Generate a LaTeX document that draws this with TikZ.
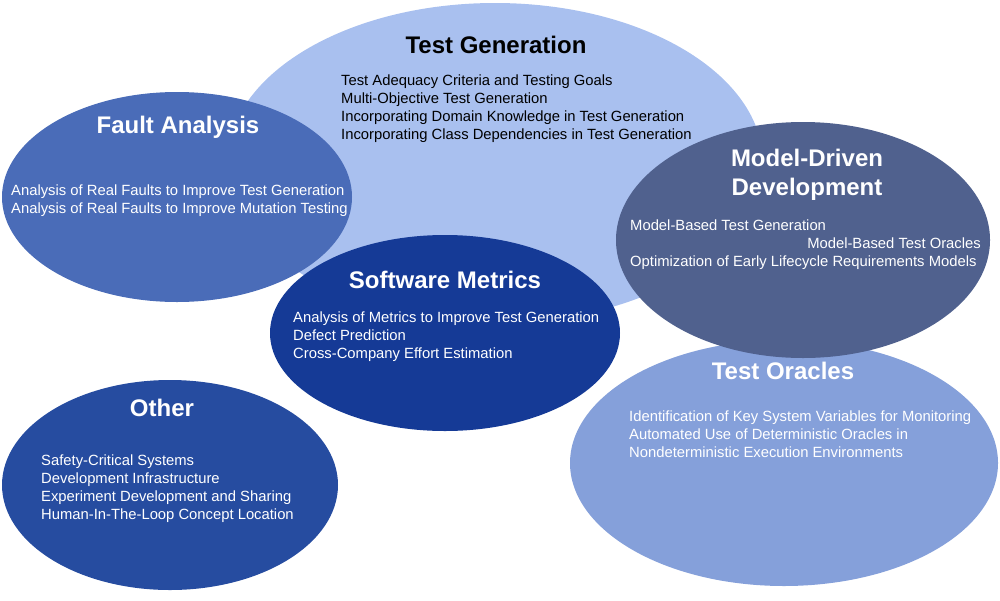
\documentclass[tikz,border=0pt]{standalone}
\usepackage{fontspec}
\setmainfont{Liberation Sans}
\definecolor{tgfill}{RGB}{169,192,239}
\definecolor{fafill}{RGB}{74,108,184}
\definecolor{smfill}{RGB}{21,58,150}
\definecolor{tofill}{RGB}{133,160,218}
\definecolor{mdfill}{RGB}{80,97,142}
\definecolor{otfill}{RGB}{38,76,160}
\begin{document}
\begin{tikzpicture}[x=1pt,y=-1pt,
  % multi-line nodes are placed by the baseline of their last line
  title/.style={inner sep=0pt,anchor=base,font=\fontsize{24}{29}\selectfont\bfseries,align=center},
  items/.style={inner sep=0pt,anchor=base west,font=\fontsize{14.8}{18}\selectfont,align=left},
  light/.style={text=white}]
\useasboundingbox (0,0) rectangle (1000,600);

% topic areas, back to front
\fill[tgfill] (495,163) ellipse [x radius=268pt, y radius=160pt];
\fill[fafill] (177,197) ellipse [x radius=175pt, y radius=105pt];
\fill[smfill] (445,333) ellipse [x radius=175pt, y radius=98pt];
\fill[tofill] (784,463) ellipse [x radius=214pt, y radius=123pt];
\fill[mdfill] (803,240) ellipse [x radius=187pt, y radius=118pt];
\fill[otfill] (170,485) ellipse [x radius=168pt, y radius=105pt];

% Test Generation
\node[title] (tgt) at (496,53.5) {Test Generation};
\node[items] (tgi) at (341,139) {Test Adequacy Criteria and Testing Goals\\
  Multi-Objective Test Generation\\
  Incorporating Domain Knowledge in Test Generation\\
  Incorporating Class Dependencies in Test Generation};

% Fault Analysis
\node[title,light] (fat) at (178,133.5) {Fault Analysis};
\node[items,light] (fai) at (11,213) {Analysis of Real Faults to Improve Test Generation\\
  Analysis of Real Faults to Improve Mutation Testing};

% Model-Driven Development
\node[title,light] (mdt) at (807,195.5) {Model-Driven\\Development};
\node[items,light] (mdi) at (630,266) {Model-Based Test Generation\\[18pt]
  Optimization of Early Lifecycle Requirements Models};
\node[items,light,anchor=base east] (mdo) at (981,248.5) {Model-Based Test Oracles};

% Software Metrics
\node[title,light] (smt) at (445,288.5) {Software Metrics};
\node[items,light] (smi) at (293,358) {Analysis of Metrics to Improve Test Generation\\
  Defect Prediction\\
  Cross-Company Effort Estimation};

% Test Oracles
\node[title,light] (tot) at (783,379.5) {Test Oracles};
\node[items,light] (toi) at (629,457) {Identification of Key System Variables for Monitoring\\
  Automated Use of Deterministic Oracles in\\
  Nondeterministic Execution Environments};

% Other
\node[title,light] (ott) at (162,416.5) {Other};
\node[items,light] (oti) at (41,519) {Safety-Critical Systems\\
  Development Infrastructure\\
  Experiment Development and Sharing\\
  Human-In-The-Loop Concept Location};
\end{tikzpicture}
\end{document}
